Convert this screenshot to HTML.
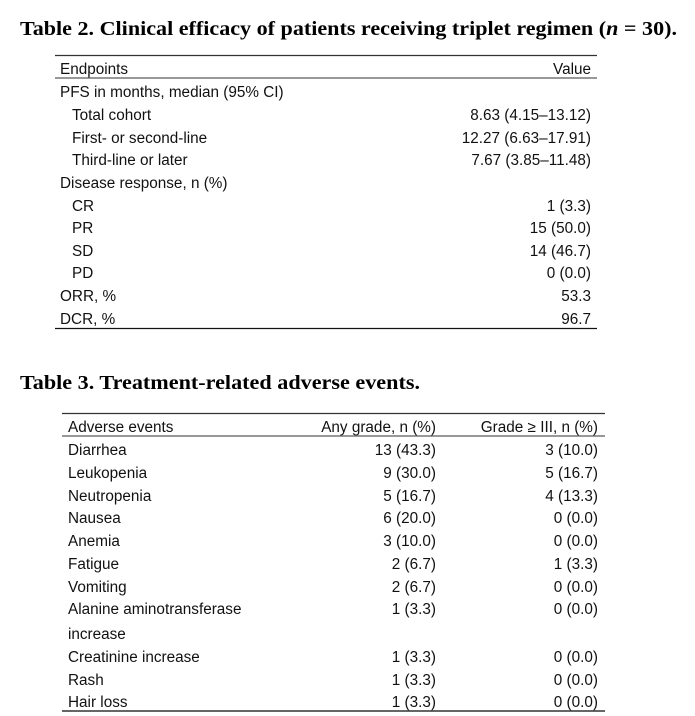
<!DOCTYPE html>
<html><head><meta charset="utf-8"><style>
body{margin:0;background:#fff;width:695px;height:716px;overflow:hidden}
svg{display:block}
.t{font-family:"Liberation Serif",serif;font-weight:bold;font-size:20.5px;fill:#000}
.c{font-family:"Liberation Sans",sans-serif;font-size:15.3px;fill:#111}
.r{text-anchor:end}
</style></head><body>
<svg width="695" height="716" xmlns="http://www.w3.org/2000/svg">
<text class="t" x="20" y="35" textLength="657" lengthAdjust="spacingAndGlyphs">Table 2. Clinical efficacy of patients receiving triplet regimen (<tspan font-style="italic">n</tspan> = 30).</text>
<line x1="55" y1="55.5" x2="597" y2="55.5" stroke="#333" stroke-width="1.3"/>
<line x1="55" y1="78" x2="597" y2="78" stroke="#777" stroke-width="1.5"/>
<line x1="55" y1="328.5" x2="597" y2="328.5" stroke="#111" stroke-width="1.3"/>
<g class="c">
<text x="60" y="74">Endpoints</text><text class="r" x="591" y="74">Value</text>
<text x="60" y="97">PFS in months, median (95% CI)</text>
<text x="72" y="120">Total cohort</text><text class="r" x="591" y="120">8.63 (4.15–13.12)</text>
<text x="72" y="143">First- or second-line</text><text class="r" x="591" y="143">12.27 (6.63–17.91)</text>
<text x="72" y="165">Third-line or later</text><text class="r" x="591" y="165">7.67 (3.85–11.48)</text>
<text x="60" y="188">Disease response, n (%)</text>
<text x="72" y="211">CR</text><text class="r" x="591" y="211">1 (3.3)</text>
<text x="72" y="233">PR</text><text class="r" x="591" y="233">15 (50.0)</text>
<text x="72" y="256">SD</text><text class="r" x="591" y="256">14 (46.7)</text>
<text x="72" y="278">PD</text><text class="r" x="591" y="278">0 (0.0)</text>
<text x="60" y="301">ORR, %</text><text class="r" x="591" y="301">53.3</text>
<text x="60" y="324">DCR, %</text><text class="r" x="591" y="324">96.7</text>
</g>
<text class="t" x="20" y="389" textLength="400" lengthAdjust="spacingAndGlyphs">Table 3. Treatment-related adverse events.</text>
<line x1="62" y1="413.5" x2="605" y2="413.5" stroke="#333" stroke-width="1.3"/>
<line x1="62" y1="436" x2="605" y2="436" stroke="#777" stroke-width="1.5"/>
<line x1="62" y1="711" x2="605" y2="711" stroke="#666" stroke-width="2"/>
<g class="c">
<text x="68" y="432">Adverse events</text><text class="r" x="436" y="432">Any grade, n (%)</text><text class="r" x="598" y="432">Grade ≥ III, n (%)</text>
<text x="68" y="455">Diarrhea</text><text class="r" x="436" y="455">13 (43.3)</text><text class="r" x="598" y="455">3 (10.0)</text>
<text x="68" y="478">Leukopenia</text><text class="r" x="436" y="478">9 (30.0)</text><text class="r" x="598" y="478">5 (16.7)</text>
<text x="68" y="501">Neutropenia</text><text class="r" x="436" y="501">5 (16.7)</text><text class="r" x="598" y="501">4 (13.3)</text>
<text x="68" y="523">Nausea</text><text class="r" x="436" y="523">6 (20.0)</text><text class="r" x="598" y="523">0 (0.0)</text>
<text x="68" y="546">Anemia</text><text class="r" x="436" y="546">3 (10.0)</text><text class="r" x="598" y="546">0 (0.0)</text>
<text x="68" y="569">Fatigue</text><text class="r" x="436" y="569">2 (6.7)</text><text class="r" x="598" y="569">1 (3.3)</text>
<text x="68" y="592">Vomiting</text><text class="r" x="436" y="592">2 (6.7)</text><text class="r" x="598" y="592">0 (0.0)</text>
<text x="68" y="614">Alanine aminotransferase</text><text class="r" x="436" y="614">1 (3.3)</text><text class="r" x="598" y="614">0 (0.0)</text>
<text x="68" y="639">increase</text>
<text x="68" y="662">Creatinine increase</text><text class="r" x="436" y="662">1 (3.3)</text><text class="r" x="598" y="662">0 (0.0)</text>
<text x="68" y="685">Rash</text><text class="r" x="436" y="685">1 (3.3)</text><text class="r" x="598" y="685">0 (0.0)</text>
<text x="68" y="707">Hair loss</text><text class="r" x="436" y="707">1 (3.3)</text><text class="r" x="598" y="707">0 (0.0)</text>
</g>
</svg>
</body></html>
